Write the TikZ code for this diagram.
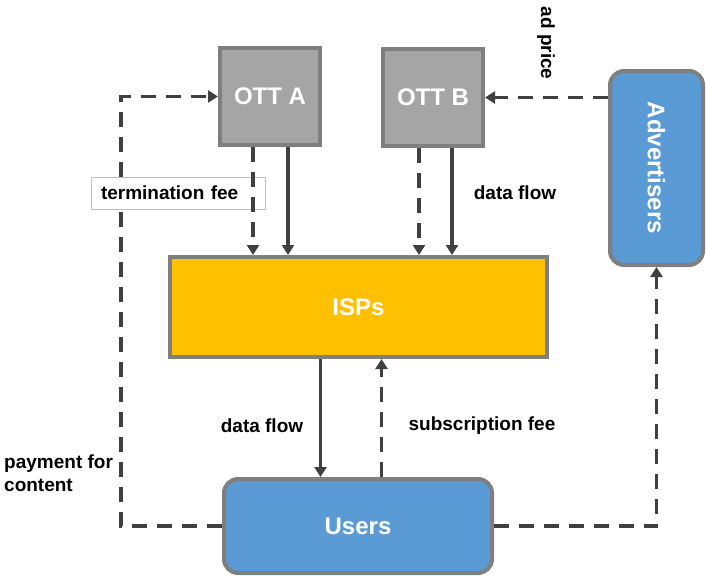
\documentclass[tikz,border=0pt]{standalone}
\usepackage{fontspec}
\setmainfont{Liberation Sans}
\usetikzlibrary{arrows.meta,calc}
\definecolor{ottfill}{HTML}{A5A5A5}
\definecolor{edgegray}{HTML}{7F7F7F}
\definecolor{bluefill}{HTML}{5B9BD5}
\definecolor{ispfill}{HTML}{FFC000}
\definecolor{arrowc}{HTML}{404040}
\definecolor{lbledge}{HTML}{BFBFBF}
\begin{document}
\begin{tikzpicture}[x=1pt,y=-1pt,
  bigtext/.style={text=white, font=\bfseries\fontsize{24}{28}\selectfont},
  ottbox/.style={bigtext, draw=edgegray, fill=ottfill, line width=4pt, minimum width=100pt, minimum height=97pt, inner sep=0pt},
  ispbox/.style={bigtext, draw=edgegray, fill=ispfill, line width=4pt, minimum width=377pt, minimum height=100pt, inner sep=0pt},
  bluebox/.style={bigtext, draw=edgegray, fill=bluefill, line width=4pt, rounded corners=14pt, inner sep=0pt},
  lbl/.style={text=black, font=\bfseries\fontsize{19}{22.5}\selectfont, inner sep=0pt},
  flow/.style={draw=arrowc, line width=3.5pt, -{Triangle[width=12pt,length=10pt]}},
  money/.style={flow, dash pattern=on 15pt off 10pt}
]
\useasboundingbox (0,0) rectangle (706,576);

% nodes
\node[ottbox] (otta) at (270,96.5) {OTT A};
\node[ottbox] (ottb) at (433,97.5) {OTT B};
\node[ispbox] (isp) at (358.5,307) {ISPs};
\node[bluebox, minimum width=93pt, minimum height=194pt] (adv) at (656.5,168) {\rotatebox{-90}{Advertisers}};
\node[bluebox, minimum width=268pt, minimum height=94pt] (users) at (358,526) {Users};

% left loop: payment for content
\coordinate (lc) at (121,300);
\draw[money] (users.west) -| (lc) |- (otta.west);

% right loop: users to advertisers
\draw[money] (users.east) -| (adv.south);

% advertisers to OTT B: ad price
\draw[money] (ottb.east -| adv.west) -- (ottb.east);

% termination fee label box
\node[lbl, draw=lbledge, line width=0.6pt, fill=white, minimum width=174pt, minimum height=32pt, text width=154pt, align=left, inner xsep=10pt] (tfee) at (178,193) {termination fee};

% OTT A to ISPs
\draw[money] ([xshift=-17pt]otta.south) -- ([xshift=-17pt]otta.south |- isp.north);
\draw[flow] ([xshift=18pt]otta.south) -- ([xshift=18pt]otta.south |- isp.north);

% OTT B to ISPs
\draw[money] ([xshift=-14pt]ottb.south) -- ([xshift=-14pt]ottb.south |- isp.north);
\draw[flow] ([xshift=19pt]ottb.south) -- ([xshift=19pt]ottb.south |- isp.north);

% ISPs and users
\draw[flow] ([xshift=-38pt]isp.south) -- ([xshift=-38pt]isp.south |- users.north);
\draw[money] ([xshift=23pt]isp.south |- users.north) -- ([xshift=23pt]isp.south);

% labels
\node[lbl] (df1) at (515,193) {data flow};
\node[lbl, rotate=-90] (adprice) at (546,43) {ad price};
\node[lbl] (df2) at (262,426) {data flow};
\node[lbl] (subfee) at (482,426) {subscription fee};
\node[lbl, anchor=west, align=left] (pay) at (4,473) {payment for\\content};
\end{tikzpicture}
\end{document}
